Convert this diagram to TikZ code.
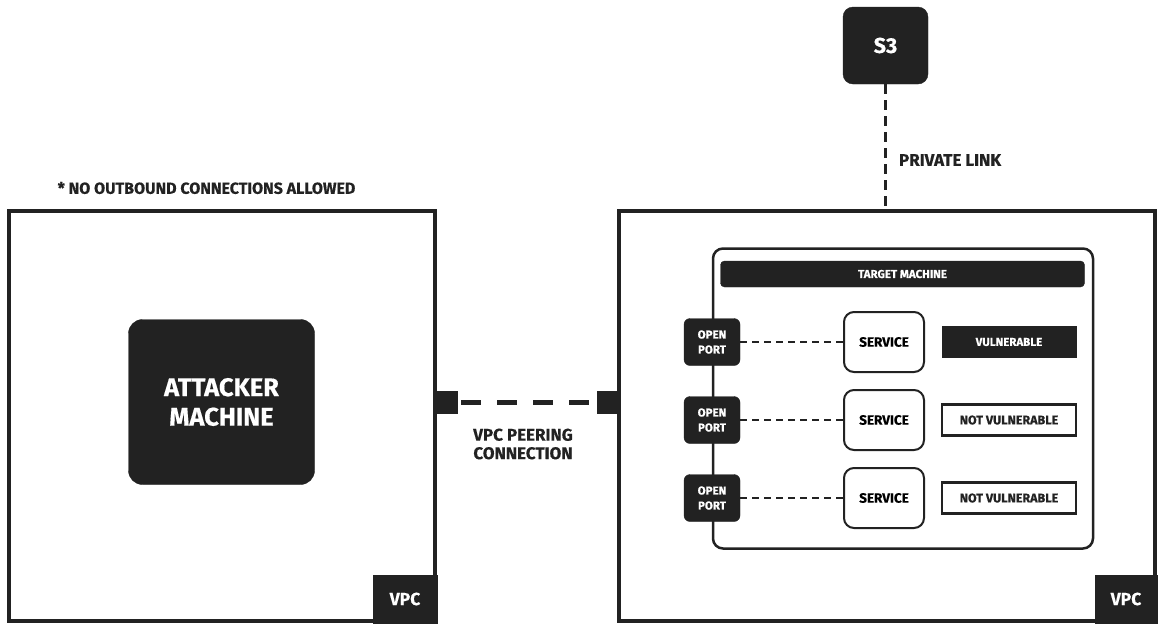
\documentclass[tikz,border=0pt]{standalone}
\usepackage{fontspec}
\setmainfont[BoldFeatures={FakeBold=0.4}]{Fira Sans}
\definecolor{ink}{HTML}{222222}
\newcommand\fsz[2]{\fontsize{#1}{#2}\selectfont\bfseries}
\begin{document}
\begin{tikzpicture}[x=1pt,y=-1pt,
  every node/.style={inner sep=0pt, outer sep=0pt, align=center},
  vpcbox/.style={draw=ink, line width=4pt, fill=white},
  darktag/.style={fill=ink, draw=ink, text=white},
  darkround/.style={fill=ink, draw=ink, text=white, rounded corners=10pt},
  portbox/.style={fill=ink, draw=ink, text=white, rounded corners=6pt, minimum width=56pt, minimum height=47pt, font=\fsz{11.5}{15}},
  svcbox/.style={draw=ink, fill=white, line width=2pt, rounded corners=10pt, minimum width=80pt, minimum height=60pt, font=\fsz{13.5}{15}},
  statbox/.style={minimum width=134pt, minimum height=31pt, font=\fsz{11.5}{13}},
  peersq/.style={fill=ink, draw=ink, minimum width=20pt, minimum height=22pt},
  thindash/.style={draw=ink, line width=1.3pt, dash pattern=on 7pt off 5pt},
  lbl/.style={text=ink}
]
\useasboundingbox (0,0) rectangle (1162,630);
% left VPC
\node[vpcbox, minimum width=426pt, minimum height=410pt] (vpcL) at (222,416) {};
\node[darktag, minimum width=64pt, minimum height=48pt, font=\fsz{17.5}{19}] (tagL) at (405,599) {VPC};
\node[lbl, font=\fsz{16}{18}] (note) at (206.5,188) {* NO OUTBOUND CONNECTIONS ALLOWED};
\node[darkround, minimum width=186pt, minimum height=165pt, rounded corners=14pt, font=\fsz{25.5}{29.5}] (att) at (221.5,402) {ATTACKER\\MACHINE};
% right VPC
\node[vpcbox, minimum width=536pt, minimum height=410pt] (vpcR) at (887,416) {};
\node[darktag, minimum width=62pt, minimum height=48pt, font=\fsz{17.5}{19}] (tagR) at (1126,599) {VPC};
% peering
\node[peersq] (pL) at (447,402) {};
\node[peersq] (pR) at (607,402) {};
\draw[ink, line width=5pt, dash pattern=on 20pt off 16pt, dash phase=-4pt] (pL.east) -- (pR.west);
\node[lbl, font=\fsz{17}{18.5}] (peerlbl) at (523,444) {VPC PEERING\\CONNECTION};
% S3
\node[darkround, minimum width=85pt, minimum height=77pt, font=\fsz{21.5}{23}] (s3) at (885.5,45.5) {S3};
\draw[ink, line width=3pt, dash pattern=on 10pt off 6pt] (s3.south) -- (s3.south |- vpcR.north);
\node[lbl, font=\fsz{17}{19}, anchor=west] (pl) at (899,160) {PRIVATE LINK};
% target machine
\node[draw=ink, line width=2.5pt, fill=white, rounded corners=10pt, minimum width=380pt, minimum height=300pt] (tm) at (903,398.5) {};
\node[darktag, rounded corners=4pt, minimum width=364pt, minimum height=26pt, font=\fsz{11.5}{13}] (tmt) at (902.5,274) {TARGET MACHINE};
% rows
\foreach \i/\y in {1/342,2/420,3/498}{
  \node[portbox] (port\i) at (712,\y) {OPEN\\PORT};
  \node[svcbox] (svc\i) at (884,\y) {SERVICE};
  \draw[thindash] (port\i.east) -- (svc\i.west);
}
\node[statbox, darktag] (st1) at (1009,342) {VULNERABLE};
\node[statbox, draw=ink, line width=2.5pt, fill=white, text=ink, font=\fsz{12.5}{14}] (st2) at (1009,420) {NOT VULNERABLE};
\node[statbox, draw=ink, line width=2.5pt, fill=white, text=ink, font=\fsz{12.5}{14}] (st3) at (1009,498) {NOT VULNERABLE};
\end{tikzpicture}
\end{document}
